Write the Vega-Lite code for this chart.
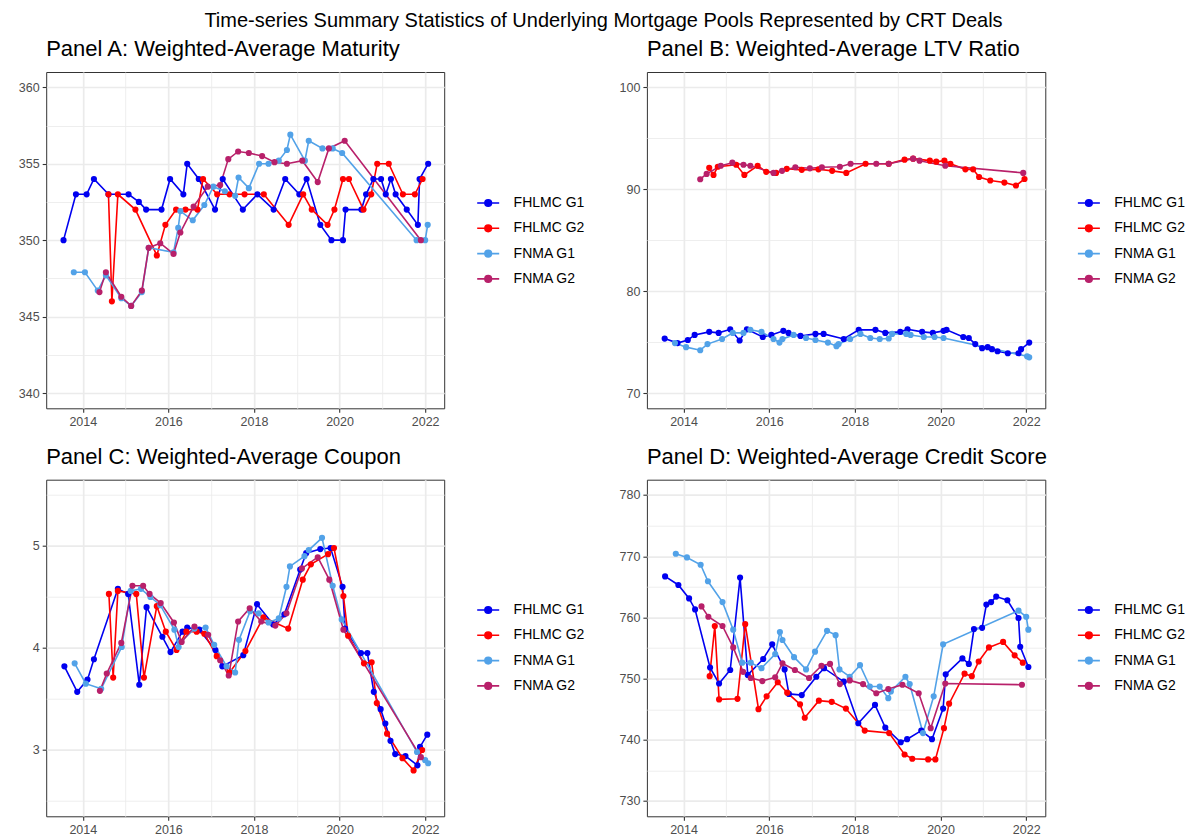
{
  "$schema": "https://vega.github.io/schema/vega-lite/v6.json",
  "padding": {"left": 13.2, "top": 10, "right": 0, "bottom": 2},
  "title": {
    "text": "Time-series Summary Statistics of Underlying Mortgage Pools Represented by CRT Deals",
    "anchor": "middle",
    "frame": "bounds",
    "font": "Liberation Sans",
    "fontSize": 20,
    "fontWeight": "normal",
    "color": "#000000",
    "offset": 6.7,
    "dx": 3.3
  },
  "spacing": 15.7,
  "resolve": {"scale": {"color": "independent"}, "legend": {"color": "independent"}},
  "datasets": {
    "maturity": [
      {"t": 2013.55, "s": "FHLMC G1", "v": 350}, {"t": 2013.84, "s": "FHLMC G1", "v": 353}, {"t": 2014.09, "s": "FHLMC G1", "v": 353}, {"t": 2014.26, "s": "FHLMC G1", "v": 354}, {"t": 2014.6, "s": "FHLMC G1", "v": 353}, {"t": 2015.07, "s": "FHLMC G1", "v": 353}, {"t": 2015.31, "s": "FHLMC G1", "v": 352.5}, {"t": 2015.48, "s": "FHLMC G1", "v": 352}, {"t": 2015.84, "s": "FHLMC G1", "v": 352}, {"t": 2016.04, "s": "FHLMC G1", "v": 354}, {"t": 2016.35, "s": "FHLMC G1", "v": 353}, {"t": 2016.44, "s": "FHLMC G1", "v": 355}, {"t": 2016.71, "s": "FHLMC G1", "v": 354}, {"t": 2017.09, "s": "FHLMC G1", "v": 352}, {"t": 2017.27, "s": "FHLMC G1", "v": 354}, {"t": 2017.74, "s": "FHLMC G1", "v": 352}, {"t": 2018.08, "s": "FHLMC G1", "v": 353}, {"t": 2018.46, "s": "FHLMC G1", "v": 352}, {"t": 2018.73, "s": "FHLMC G1", "v": 354}, {"t": 2019.06, "s": "FHLMC G1", "v": 353}, {"t": 2019.23, "s": "FHLMC G1", "v": 354}, {"t": 2019.55, "s": "FHLMC G1", "v": 351}, {"t": 2019.81, "s": "FHLMC G1", "v": 350}, {"t": 2020.08, "s": "FHLMC G1", "v": 350}, {"t": 2020.14, "s": "FHLMC G1", "v": 352}, {"t": 2020.51, "s": "FHLMC G1", "v": 352}, {"t": 2020.62, "s": "FHLMC G1", "v": 353}, {"t": 2020.79, "s": "FHLMC G1", "v": 354}, {"t": 2020.97, "s": "FHLMC G1", "v": 354}, {"t": 2021.08, "s": "FHLMC G1", "v": 353}, {"t": 2021.2, "s": "FHLMC G1", "v": 354}, {"t": 2021.31, "s": "FHLMC G1", "v": 353}, {"t": 2021.57, "s": "FHLMC G1", "v": 352}, {"t": 2021.83, "s": "FHLMC G1", "v": 351}, {"t": 2021.87, "s": "FHLMC G1", "v": 354}, {"t": 2022.07, "s": "FHLMC G1", "v": 355},
      {"t": 2014.6, "s": "FHLMC G2", "v": 353}, {"t": 2014.68, "s": "FHLMC G2", "v": 346}, {"t": 2014.82, "s": "FHLMC G2", "v": 353}, {"t": 2015.23, "s": "FHLMC G2", "v": 352}, {"t": 2015.73, "s": "FHLMC G2", "v": 349}, {"t": 2015.93, "s": "FHLMC G2", "v": 351}, {"t": 2016.18, "s": "FHLMC G2", "v": 352}, {"t": 2016.4, "s": "FHLMC G2", "v": 352}, {"t": 2016.68, "s": "FHLMC G2", "v": 352}, {"t": 2016.81, "s": "FHLMC G2", "v": 354}, {"t": 2017.14, "s": "FHLMC G2", "v": 353}, {"t": 2017.43, "s": "FHLMC G2", "v": 353}, {"t": 2017.78, "s": "FHLMC G2", "v": 353}, {"t": 2018.23, "s": "FHLMC G2", "v": 353}, {"t": 2018.81, "s": "FHLMC G2", "v": 351}, {"t": 2019.15, "s": "FHLMC G2", "v": 353}, {"t": 2019.35, "s": "FHLMC G2", "v": 352}, {"t": 2019.72, "s": "FHLMC G2", "v": 351}, {"t": 2019.88, "s": "FHLMC G2", "v": 352}, {"t": 2020.08, "s": "FHLMC G2", "v": 354}, {"t": 2020.22, "s": "FHLMC G2", "v": 354}, {"t": 2020.56, "s": "FHLMC G2", "v": 352}, {"t": 2020.74, "s": "FHLMC G2", "v": 353}, {"t": 2020.88, "s": "FHLMC G2", "v": 355}, {"t": 2021.15, "s": "FHLMC G2", "v": 355}, {"t": 2021.48, "s": "FHLMC G2", "v": 353}, {"t": 2021.76, "s": "FHLMC G2", "v": 353}, {"t": 2021.94, "s": "FHLMC G2", "v": 354},
      {"t": 2013.79, "s": "FNMA G1", "v": 347.9}, {"t": 2014.05, "s": "FNMA G1", "v": 347.9}, {"t": 2014.35, "s": "FNMA G1", "v": 346.7}, {"t": 2014.54, "s": "FNMA G1", "v": 347.7}, {"t": 2014.9, "s": "FNMA G1", "v": 346.2}, {"t": 2015.13, "s": "FNMA G1", "v": 345.7}, {"t": 2015.38, "s": "FNMA G1", "v": 346.6}, {"t": 2015.54, "s": "FNMA G1", "v": 349.5}, {"t": 2016.12, "s": "FNMA G1", "v": 349.2}, {"t": 2016.23, "s": "FNMA G1", "v": 350.8}, {"t": 2016.28, "s": "FNMA G1", "v": 351.9}, {"t": 2016.57, "s": "FNMA G1", "v": 351.3}, {"t": 2016.84, "s": "FNMA G1", "v": 352.3}, {"t": 2017.05, "s": "FNMA G1", "v": 353.5}, {"t": 2017.32, "s": "FNMA G1", "v": 353.2}, {"t": 2017.56, "s": "FNMA G1", "v": 352.9}, {"t": 2017.64, "s": "FNMA G1", "v": 354.1}, {"t": 2017.88, "s": "FNMA G1", "v": 353.4}, {"t": 2018.12, "s": "FNMA G1", "v": 355.0}, {"t": 2018.34, "s": "FNMA G1", "v": 355.0}, {"t": 2018.58, "s": "FNMA G1", "v": 355.2}, {"t": 2018.77, "s": "FNMA G1", "v": 355.9}, {"t": 2018.85, "s": "FNMA G1", "v": 356.9}, {"t": 2019.19, "s": "FNMA G1", "v": 355.2}, {"t": 2019.28, "s": "FNMA G1", "v": 356.5}, {"t": 2019.6, "s": "FNMA G1", "v": 356.0}, {"t": 2019.84, "s": "FNMA G1", "v": 356.0}, {"t": 2020.06, "s": "FNMA G1", "v": 355.7}, {"t": 2021.8, "s": "FNMA G1", "v": 350}, {"t": 2022.0, "s": "FNMA G1", "v": 350}, {"t": 2022.06, "s": "FNMA G1", "v": 351},
      {"t": 2014.39, "s": "FNMA G2", "v": 346.6}, {"t": 2014.54, "s": "FNMA G2", "v": 347.9}, {"t": 2014.9, "s": "FNMA G2", "v": 346.3}, {"t": 2015.13, "s": "FNMA G2", "v": 345.7}, {"t": 2015.38, "s": "FNMA G2", "v": 346.7}, {"t": 2015.54, "s": "FNMA G2", "v": 349.5}, {"t": 2015.81, "s": "FNMA G2", "v": 349.8}, {"t": 2016.12, "s": "FNMA G2", "v": 349.1}, {"t": 2016.28, "s": "FNMA G2", "v": 350.5}, {"t": 2016.59, "s": "FNMA G2", "v": 352.2}, {"t": 2016.92, "s": "FNMA G2", "v": 353.5}, {"t": 2017.21, "s": "FNMA G2", "v": 353.6}, {"t": 2017.4, "s": "FNMA G2", "v": 355.3}, {"t": 2017.63, "s": "FNMA G2", "v": 355.8}, {"t": 2017.88, "s": "FNMA G2", "v": 355.7}, {"t": 2018.19, "s": "FNMA G2", "v": 355.5}, {"t": 2018.48, "s": "FNMA G2", "v": 355.1}, {"t": 2018.77, "s": "FNMA G2", "v": 355.0}, {"t": 2019.13, "s": "FNMA G2", "v": 355.2}, {"t": 2019.49, "s": "FNMA G2", "v": 353.8}, {"t": 2019.75, "s": "FNMA G2", "v": 356.0}, {"t": 2020.12, "s": "FNMA G2", "v": 356.5}, {"t": 2021.9, "s": "FNMA G2", "v": 350}
    ],
    "ltv": [
      {"t": 2013.56, "s": "FHLMC G1", "v": 75.34}, {"t": 2013.86, "s": "FHLMC G1", "v": 74.9}, {"t": 2014.1, "s": "FHLMC G1", "v": 75.2}, {"t": 2014.26, "s": "FHLMC G1", "v": 75.7}, {"t": 2014.6, "s": "FHLMC G1", "v": 76.0}, {"t": 2014.82, "s": "FHLMC G1", "v": 75.9}, {"t": 2015.09, "s": "FHLMC G1", "v": 76.25}, {"t": 2015.31, "s": "FHLMC G1", "v": 75.15}, {"t": 2015.48, "s": "FHLMC G1", "v": 76.25}, {"t": 2015.85, "s": "FHLMC G1", "v": 75.5}, {"t": 2016.05, "s": "FHLMC G1", "v": 75.7}, {"t": 2016.33, "s": "FHLMC G1", "v": 76.1}, {"t": 2016.45, "s": "FHLMC G1", "v": 75.9}, {"t": 2016.73, "s": "FHLMC G1", "v": 75.6}, {"t": 2017.08, "s": "FHLMC G1", "v": 75.8}, {"t": 2017.27, "s": "FHLMC G1", "v": 75.8}, {"t": 2017.74, "s": "FHLMC G1", "v": 75.3}, {"t": 2018.09, "s": "FHLMC G1", "v": 76.2}, {"t": 2018.48, "s": "FHLMC G1", "v": 76.2}, {"t": 2018.71, "s": "FHLMC G1", "v": 75.9}, {"t": 2019.06, "s": "FHLMC G1", "v": 76.0}, {"t": 2019.23, "s": "FHLMC G1", "v": 76.25}, {"t": 2019.57, "s": "FHLMC G1", "v": 76.0}, {"t": 2019.82, "s": "FHLMC G1", "v": 75.9}, {"t": 2020.07, "s": "FHLMC G1", "v": 76.1}, {"t": 2020.14, "s": "FHLMC G1", "v": 76.2}, {"t": 2020.53, "s": "FHLMC G1", "v": 75.5}, {"t": 2020.66, "s": "FHLMC G1", "v": 75.4}, {"t": 2020.81, "s": "FHLMC G1", "v": 74.8}, {"t": 2020.97, "s": "FHLMC G1", "v": 74.4}, {"t": 2021.1, "s": "FHLMC G1", "v": 74.5}, {"t": 2021.2, "s": "FHLMC G1", "v": 74.3}, {"t": 2021.33, "s": "FHLMC G1", "v": 74.1}, {"t": 2021.57, "s": "FHLMC G1", "v": 73.9}, {"t": 2021.82, "s": "FHLMC G1", "v": 73.9}, {"t": 2021.88, "s": "FHLMC G1", "v": 74.3}, {"t": 2022.07, "s": "FHLMC G1", "v": 74.95},
      {"t": 2014.6, "s": "FHLMC G2", "v": 92.1}, {"t": 2014.7, "s": "FHLMC G2", "v": 91.4}, {"t": 2014.8, "s": "FHLMC G2", "v": 92.2}, {"t": 2015.23, "s": "FHLMC G2", "v": 92.4}, {"t": 2015.42, "s": "FHLMC G2", "v": 91.4}, {"t": 2015.73, "s": "FHLMC G2", "v": 92.3}, {"t": 2015.93, "s": "FHLMC G2", "v": 91.7}, {"t": 2016.16, "s": "FHLMC G2", "v": 91.6}, {"t": 2016.41, "s": "FHLMC G2", "v": 92.0}, {"t": 2016.76, "s": "FHLMC G2", "v": 91.9}, {"t": 2017.15, "s": "FHLMC G2", "v": 91.95}, {"t": 2017.47, "s": "FHLMC G2", "v": 91.8}, {"t": 2017.8, "s": "FHLMC G2", "v": 91.6}, {"t": 2018.25, "s": "FHLMC G2", "v": 92.5}, {"t": 2018.79, "s": "FHLMC G2", "v": 92.5}, {"t": 2019.16, "s": "FHLMC G2", "v": 92.9}, {"t": 2019.36, "s": "FHLMC G2", "v": 93.0}, {"t": 2019.75, "s": "FHLMC G2", "v": 92.8}, {"t": 2019.9, "s": "FHLMC G2", "v": 92.7}, {"t": 2020.09, "s": "FHLMC G2", "v": 92.8}, {"t": 2020.23, "s": "FHLMC G2", "v": 92.5}, {"t": 2020.58, "s": "FHLMC G2", "v": 91.95}, {"t": 2020.76, "s": "FHLMC G2", "v": 91.95}, {"t": 2020.9, "s": "FHLMC G2", "v": 91.2}, {"t": 2021.16, "s": "FHLMC G2", "v": 90.85}, {"t": 2021.49, "s": "FHLMC G2", "v": 90.65}, {"t": 2021.76, "s": "FHLMC G2", "v": 90.36}, {"t": 2021.96, "s": "FHLMC G2", "v": 91.0},
      {"t": 2013.8, "s": "FNMA G1", "v": 74.9}, {"t": 2014.06, "s": "FNMA G1", "v": 74.5}, {"t": 2014.39, "s": "FNMA G1", "v": 74.2}, {"t": 2014.56, "s": "FNMA G1", "v": 74.8}, {"t": 2014.9, "s": "FNMA G1", "v": 75.3}, {"t": 2015.15, "s": "FNMA G1", "v": 75.9}, {"t": 2015.4, "s": "FNMA G1", "v": 75.9}, {"t": 2015.56, "s": "FNMA G1", "v": 76.2}, {"t": 2015.82, "s": "FNMA G1", "v": 76.0}, {"t": 2016.1, "s": "FNMA G1", "v": 75.3}, {"t": 2016.24, "s": "FNMA G1", "v": 74.95}, {"t": 2016.31, "s": "FNMA G1", "v": 75.3}, {"t": 2016.57, "s": "FNMA G1", "v": 75.7}, {"t": 2016.86, "s": "FNMA G1", "v": 75.4}, {"t": 2017.08, "s": "FNMA G1", "v": 75.2}, {"t": 2017.37, "s": "FNMA G1", "v": 74.95}, {"t": 2017.57, "s": "FNMA G1", "v": 74.6}, {"t": 2017.62, "s": "FNMA G1", "v": 74.8}, {"t": 2017.89, "s": "FNMA G1", "v": 75.3}, {"t": 2018.13, "s": "FNMA G1", "v": 75.8}, {"t": 2018.36, "s": "FNMA G1", "v": 75.4}, {"t": 2018.58, "s": "FNMA G1", "v": 75.3}, {"t": 2018.79, "s": "FNMA G1", "v": 75.35}, {"t": 2018.87, "s": "FNMA G1", "v": 75.8}, {"t": 2019.2, "s": "FNMA G1", "v": 75.8}, {"t": 2019.3, "s": "FNMA G1", "v": 75.7}, {"t": 2019.61, "s": "FNMA G1", "v": 75.5}, {"t": 2019.86, "s": "FNMA G1", "v": 75.5}, {"t": 2020.07, "s": "FNMA G1", "v": 75.4}, {"t": 2022.02, "s": "FNMA G1", "v": 73.6}, {"t": 2022.07, "s": "FNMA G1", "v": 73.5},
      {"t": 2014.39, "s": "FNMA G2", "v": 90.98}, {"t": 2014.54, "s": "FNMA G2", "v": 91.5}, {"t": 2014.87, "s": "FNMA G2", "v": 92.3}, {"t": 2015.14, "s": "FNMA G2", "v": 92.6}, {"t": 2015.4, "s": "FNMA G2", "v": 92.4}, {"t": 2015.56, "s": "FNMA G2", "v": 92.3}, {"t": 2016.1, "s": "FNMA G2", "v": 91.6}, {"t": 2016.3, "s": "FNMA G2", "v": 91.8}, {"t": 2016.61, "s": "FNMA G2", "v": 92.15}, {"t": 2016.95, "s": "FNMA G2", "v": 92.05}, {"t": 2017.23, "s": "FNMA G2", "v": 92.15}, {"t": 2017.65, "s": "FNMA G2", "v": 92.2}, {"t": 2017.9, "s": "FNMA G2", "v": 92.5}, {"t": 2018.5, "s": "FNMA G2", "v": 92.5}, {"t": 2018.79, "s": "FNMA G2", "v": 92.5}, {"t": 2019.36, "s": "FNMA G2", "v": 93.0}, {"t": 2019.51, "s": "FNMA G2", "v": 92.8}, {"t": 2020.11, "s": "FNMA G2", "v": 92.3}, {"t": 2021.93, "s": "FNMA G2", "v": 91.6}
    ],
    "coupon": [
      {"t": 2013.57, "s": "FHLMC G1", "v": 3.82}, {"t": 2013.87, "s": "FHLMC G1", "v": 3.57}, {"t": 2014.11, "s": "FHLMC G1", "v": 3.69}, {"t": 2014.26, "s": "FHLMC G1", "v": 3.89}, {"t": 2014.82, "s": "FHLMC G1", "v": 4.58}, {"t": 2015.06, "s": "FHLMC G1", "v": 4.53}, {"t": 2015.32, "s": "FHLMC G1", "v": 3.64}, {"t": 2015.49, "s": "FHLMC G1", "v": 4.40}, {"t": 2015.86, "s": "FHLMC G1", "v": 4.11}, {"t": 2016.05, "s": "FHLMC G1", "v": 3.96}, {"t": 2016.33, "s": "FHLMC G1", "v": 4.16}, {"t": 2016.44, "s": "FHLMC G1", "v": 4.20}, {"t": 2016.72, "s": "FHLMC G1", "v": 4.18}, {"t": 2017.1, "s": "FHLMC G1", "v": 3.98}, {"t": 2017.26, "s": "FHLMC G1", "v": 3.82}, {"t": 2017.75, "s": "FHLMC G1", "v": 3.93}, {"t": 2018.07, "s": "FHLMC G1", "v": 4.43}, {"t": 2018.45, "s": "FHLMC G1", "v": 4.23}, {"t": 2018.71, "s": "FHLMC G1", "v": 4.33}, {"t": 2019.08, "s": "FHLMC G1", "v": 4.77}, {"t": 2019.22, "s": "FHLMC G1", "v": 4.93}, {"t": 2019.55, "s": "FHLMC G1", "v": 4.97}, {"t": 2019.79, "s": "FHLMC G1", "v": 4.98}, {"t": 2020.07, "s": "FHLMC G1", "v": 4.60}, {"t": 2020.13, "s": "FHLMC G1", "v": 4.19}, {"t": 2020.5, "s": "FHLMC G1", "v": 3.95}, {"t": 2020.65, "s": "FHLMC G1", "v": 3.95}, {"t": 2020.8, "s": "FHLMC G1", "v": 3.57}, {"t": 2020.96, "s": "FHLMC G1", "v": 3.40}, {"t": 2021.07, "s": "FHLMC G1", "v": 3.26}, {"t": 2021.19, "s": "FHLMC G1", "v": 3.09}, {"t": 2021.3, "s": "FHLMC G1", "v": 2.96}, {"t": 2021.54, "s": "FHLMC G1", "v": 2.94}, {"t": 2021.82, "s": "FHLMC G1", "v": 2.85}, {"t": 2021.88, "s": "FHLMC G1", "v": 3.03}, {"t": 2022.05, "s": "FHLMC G1", "v": 3.15},
      {"t": 2014.61, "s": "FHLMC G2", "v": 4.53}, {"t": 2014.71, "s": "FHLMC G2", "v": 3.71}, {"t": 2014.82, "s": "FHLMC G2", "v": 4.56}, {"t": 2015.25, "s": "FHLMC G2", "v": 4.53}, {"t": 2015.43, "s": "FHLMC G2", "v": 3.71}, {"t": 2015.73, "s": "FHLMC G2", "v": 4.41}, {"t": 2015.94, "s": "FHLMC G2", "v": 4.16}, {"t": 2016.19, "s": "FHLMC G2", "v": 3.98}, {"t": 2016.42, "s": "FHLMC G2", "v": 4.16}, {"t": 2016.66, "s": "FHLMC G2", "v": 4.16}, {"t": 2016.84, "s": "FHLMC G2", "v": 4.14}, {"t": 2017.13, "s": "FHLMC G2", "v": 3.92}, {"t": 2017.43, "s": "FHLMC G2", "v": 3.76}, {"t": 2017.8, "s": "FHLMC G2", "v": 3.97}, {"t": 2018.22, "s": "FHLMC G2", "v": 4.30}, {"t": 2018.8, "s": "FHLMC G2", "v": 4.19}, {"t": 2019.14, "s": "FHLMC G2", "v": 4.67}, {"t": 2019.33, "s": "FHLMC G2", "v": 4.82}, {"t": 2019.73, "s": "FHLMC G2", "v": 4.92}, {"t": 2019.87, "s": "FHLMC G2", "v": 4.98}, {"t": 2020.09, "s": "FHLMC G2", "v": 4.51}, {"t": 2020.2, "s": "FHLMC G2", "v": 4.12}, {"t": 2020.57, "s": "FHLMC G2", "v": 3.85}, {"t": 2020.75, "s": "FHLMC G2", "v": 3.86}, {"t": 2020.87, "s": "FHLMC G2", "v": 3.46}, {"t": 2021.11, "s": "FHLMC G2", "v": 3.16}, {"t": 2021.47, "s": "FHLMC G2", "v": 2.92}, {"t": 2021.73, "s": "FHLMC G2", "v": 2.80}, {"t": 2021.93, "s": "FHLMC G2", "v": 3.00},
      {"t": 2013.81, "s": "FNMA G1", "v": 3.85}, {"t": 2014.07, "s": "FNMA G1", "v": 3.65}, {"t": 2014.43, "s": "FNMA G1", "v": 3.60}, {"t": 2014.91, "s": "FNMA G1", "v": 4.01}, {"t": 2015.12, "s": "FNMA G1", "v": 4.56}, {"t": 2015.36, "s": "FNMA G1", "v": 4.58}, {"t": 2015.58, "s": "FNMA G1", "v": 4.50}, {"t": 2015.81, "s": "FNMA G1", "v": 4.42}, {"t": 2016.14, "s": "FNMA G1", "v": 4.18}, {"t": 2016.24, "s": "FNMA G1", "v": 4.01}, {"t": 2016.29, "s": "FNMA G1", "v": 4.06}, {"t": 2016.61, "s": "FNMA G1", "v": 4.19}, {"t": 2016.87, "s": "FNMA G1", "v": 4.20}, {"t": 2017.07, "s": "FNMA G1", "v": 4.03}, {"t": 2017.36, "s": "FNMA G1", "v": 3.82}, {"t": 2017.56, "s": "FNMA G1", "v": 3.76}, {"t": 2017.65, "s": "FNMA G1", "v": 4.08}, {"t": 2017.91, "s": "FNMA G1", "v": 4.36}, {"t": 2018.11, "s": "FNMA G1", "v": 4.34}, {"t": 2018.34, "s": "FNMA G1", "v": 4.25}, {"t": 2018.58, "s": "FNMA G1", "v": 4.29}, {"t": 2018.76, "s": "FNMA G1", "v": 4.60}, {"t": 2018.84, "s": "FNMA G1", "v": 4.80}, {"t": 2019.18, "s": "FNMA G1", "v": 4.90}, {"t": 2019.28, "s": "FNMA G1", "v": 4.96}, {"t": 2019.59, "s": "FNMA G1", "v": 5.08}, {"t": 2019.84, "s": "FNMA G1", "v": 4.61}, {"t": 2020.05, "s": "FNMA G1", "v": 4.28}, {"t": 2021.81, "s": "FNMA G1", "v": 2.98}, {"t": 2022.0, "s": "FNMA G1", "v": 2.90}, {"t": 2022.07, "s": "FNMA G1", "v": 2.87},
      {"t": 2014.4, "s": "FNMA G2", "v": 3.58}, {"t": 2014.56, "s": "FNMA G2", "v": 3.75}, {"t": 2014.9, "s": "FNMA G2", "v": 4.05}, {"t": 2015.16, "s": "FNMA G2", "v": 4.61}, {"t": 2015.41, "s": "FNMA G2", "v": 4.61}, {"t": 2015.56, "s": "FNMA G2", "v": 4.53}, {"t": 2015.82, "s": "FNMA G2", "v": 4.44}, {"t": 2016.13, "s": "FNMA G2", "v": 4.25}, {"t": 2016.31, "s": "FNMA G2", "v": 4.06}, {"t": 2016.61, "s": "FNMA G2", "v": 4.21}, {"t": 2016.93, "s": "FNMA G2", "v": 4.13}, {"t": 2017.21, "s": "FNMA G2", "v": 3.88}, {"t": 2017.41, "s": "FNMA G2", "v": 3.73}, {"t": 2017.63, "s": "FNMA G2", "v": 4.26}, {"t": 2017.9, "s": "FNMA G2", "v": 4.39}, {"t": 2018.17, "s": "FNMA G2", "v": 4.26}, {"t": 2018.5, "s": "FNMA G2", "v": 4.22}, {"t": 2018.76, "s": "FNMA G2", "v": 4.34}, {"t": 2019.12, "s": "FNMA G2", "v": 4.78}, {"t": 2019.49, "s": "FNMA G2", "v": 4.89}, {"t": 2019.76, "s": "FNMA G2", "v": 4.67}, {"t": 2020.09, "s": "FNMA G2", "v": 4.18}, {"t": 2021.9, "s": "FNMA G2", "v": 2.93}
    ],
    "score": [
      {"t": 2013.57, "s": "FHLMC G1", "v": 766.7}, {"t": 2013.88, "s": "FHLMC G1", "v": 765.3}, {"t": 2014.13, "s": "FHLMC G1", "v": 763.1}, {"t": 2014.27, "s": "FHLMC G1", "v": 761.3}, {"t": 2014.62, "s": "FHLMC G1", "v": 751.8}, {"t": 2014.83, "s": "FHLMC G1", "v": 749.2}, {"t": 2015.09, "s": "FHLMC G1", "v": 751.4}, {"t": 2015.32, "s": "FHLMC G1", "v": 766.5}, {"t": 2015.5, "s": "FHLMC G1", "v": 750.6}, {"t": 2015.86, "s": "FHLMC G1", "v": 753.2}, {"t": 2016.07, "s": "FHLMC G1", "v": 755.6}, {"t": 2016.36, "s": "FHLMC G1", "v": 751.5}, {"t": 2016.46, "s": "FHLMC G1", "v": 747.5}, {"t": 2016.76, "s": "FHLMC G1", "v": 747.3}, {"t": 2017.1, "s": "FHLMC G1", "v": 750.3}, {"t": 2017.28, "s": "FHLMC G1", "v": 751.7}, {"t": 2017.74, "s": "FHLMC G1", "v": 749.5}, {"t": 2018.08, "s": "FHLMC G1", "v": 742.7}, {"t": 2018.47, "s": "FHLMC G1", "v": 745.7}, {"t": 2018.71, "s": "FHLMC G1", "v": 742.0}, {"t": 2019.07, "s": "FHLMC G1", "v": 739.6}, {"t": 2019.22, "s": "FHLMC G1", "v": 740.1}, {"t": 2019.55, "s": "FHLMC G1", "v": 741.5}, {"t": 2019.8, "s": "FHLMC G1", "v": 740.1}, {"t": 2020.06, "s": "FHLMC G1", "v": 745.1}, {"t": 2020.12, "s": "FHLMC G1", "v": 750.7}, {"t": 2020.51, "s": "FHLMC G1", "v": 753.3}, {"t": 2020.66, "s": "FHLMC G1", "v": 752.4}, {"t": 2020.78, "s": "FHLMC G1", "v": 758.1}, {"t": 2020.97, "s": "FHLMC G1", "v": 758.3}, {"t": 2021.07, "s": "FHLMC G1", "v": 762.1}, {"t": 2021.18, "s": "FHLMC G1", "v": 762.5}, {"t": 2021.3, "s": "FHLMC G1", "v": 763.4}, {"t": 2021.56, "s": "FHLMC G1", "v": 762.8}, {"t": 2021.82, "s": "FHLMC G1", "v": 759.9}, {"t": 2021.86, "s": "FHLMC G1", "v": 755.2}, {"t": 2022.05, "s": "FHLMC G1", "v": 751.9},
      {"t": 2014.61, "s": "FHLMC G2", "v": 750.4}, {"t": 2014.73, "s": "FHLMC G2", "v": 758.6}, {"t": 2014.83, "s": "FHLMC G2", "v": 746.6}, {"t": 2015.26, "s": "FHLMC G2", "v": 746.7}, {"t": 2015.44, "s": "FHLMC G2", "v": 758.9}, {"t": 2015.75, "s": "FHLMC G2", "v": 745.0}, {"t": 2015.94, "s": "FHLMC G2", "v": 747.1}, {"t": 2016.2, "s": "FHLMC G2", "v": 749.4}, {"t": 2016.42, "s": "FHLMC G2", "v": 747.7}, {"t": 2016.72, "s": "FHLMC G2", "v": 745.8}, {"t": 2016.83, "s": "FHLMC G2", "v": 743.6}, {"t": 2017.16, "s": "FHLMC G2", "v": 746.4}, {"t": 2017.46, "s": "FHLMC G2", "v": 746.2}, {"t": 2017.79, "s": "FHLMC G2", "v": 745.1}, {"t": 2018.23, "s": "FHLMC G2", "v": 741.5}, {"t": 2018.8, "s": "FHLMC G2", "v": 741.1}, {"t": 2019.16, "s": "FHLMC G2", "v": 737.6}, {"t": 2019.34, "s": "FHLMC G2", "v": 736.9}, {"t": 2019.71, "s": "FHLMC G2", "v": 736.8}, {"t": 2019.88, "s": "FHLMC G2", "v": 736.8}, {"t": 2020.08, "s": "FHLMC G2", "v": 741.9}, {"t": 2020.2, "s": "FHLMC G2", "v": 745.9}, {"t": 2020.56, "s": "FHLMC G2", "v": 750.8}, {"t": 2020.73, "s": "FHLMC G2", "v": 750.4}, {"t": 2020.89, "s": "FHLMC G2", "v": 752.8}, {"t": 2021.13, "s": "FHLMC G2", "v": 755.1}, {"t": 2021.46, "s": "FHLMC G2", "v": 756.0}, {"t": 2021.73, "s": "FHLMC G2", "v": 753.8}, {"t": 2021.92, "s": "FHLMC G2", "v": 752.6},
      {"t": 2013.82, "s": "FNMA G1", "v": 770.4}, {"t": 2014.08, "s": "FNMA G1", "v": 769.8}, {"t": 2014.4, "s": "FNMA G1", "v": 768.6}, {"t": 2014.57, "s": "FNMA G1", "v": 765.9}, {"t": 2014.91, "s": "FNMA G1", "v": 762.5}, {"t": 2015.16, "s": "FNMA G1", "v": 758.0}, {"t": 2015.37, "s": "FNMA G1", "v": 752.6}, {"t": 2015.57, "s": "FNMA G1", "v": 752.6}, {"t": 2015.82, "s": "FNMA G1", "v": 751.7}, {"t": 2016.14, "s": "FNMA G1", "v": 754.0}, {"t": 2016.25, "s": "FNMA G1", "v": 757.6}, {"t": 2016.31, "s": "FNMA G1", "v": 756.3}, {"t": 2016.58, "s": "FNMA G1", "v": 753.5}, {"t": 2016.86, "s": "FNMA G1", "v": 751.5}, {"t": 2017.07, "s": "FNMA G1", "v": 754.4}, {"t": 2017.35, "s": "FNMA G1", "v": 757.8}, {"t": 2017.55, "s": "FNMA G1", "v": 757.1}, {"t": 2017.64, "s": "FNMA G1", "v": 751.5}, {"t": 2017.88, "s": "FNMA G1", "v": 750.3}, {"t": 2018.12, "s": "FNMA G1", "v": 752.2}, {"t": 2018.35, "s": "FNMA G1", "v": 748.7}, {"t": 2018.58, "s": "FNMA G1", "v": 748.7}, {"t": 2018.78, "s": "FNMA G1", "v": 746.8}, {"t": 2018.84, "s": "FNMA G1", "v": 747.9}, {"t": 2019.18, "s": "FNMA G1", "v": 750.3}, {"t": 2019.28, "s": "FNMA G1", "v": 749.1}, {"t": 2019.59, "s": "FNMA G1", "v": 741.1}, {"t": 2019.84, "s": "FNMA G1", "v": 747.1}, {"t": 2020.06, "s": "FNMA G1", "v": 755.6}, {"t": 2021.82, "s": "FNMA G1", "v": 761.1}, {"t": 2022.0, "s": "FNMA G1", "v": 760.1}, {"t": 2022.05, "s": "FNMA G1", "v": 758.0},
      {"t": 2014.42, "s": "FNMA G2", "v": 761.8}, {"t": 2014.58, "s": "FNMA G2", "v": 760.1}, {"t": 2014.91, "s": "FNMA G2", "v": 758.6}, {"t": 2015.16, "s": "FNMA G2", "v": 755.1}, {"t": 2015.39, "s": "FNMA G2", "v": 751.1}, {"t": 2015.57, "s": "FNMA G2", "v": 750.1}, {"t": 2015.84, "s": "FNMA G2", "v": 749.6}, {"t": 2016.14, "s": "FNMA G2", "v": 750.2}, {"t": 2016.31, "s": "FNMA G2", "v": 752.5}, {"t": 2016.6, "s": "FNMA G2", "v": 751.4}, {"t": 2016.93, "s": "FNMA G2", "v": 750.1}, {"t": 2017.22, "s": "FNMA G2", "v": 752.1}, {"t": 2017.42, "s": "FNMA G2", "v": 752.4}, {"t": 2017.65, "s": "FNMA G2", "v": 749.1}, {"t": 2017.88, "s": "FNMA G2", "v": 749.7}, {"t": 2018.19, "s": "FNMA G2", "v": 749.1}, {"t": 2018.5, "s": "FNMA G2", "v": 747.6}, {"t": 2018.78, "s": "FNMA G2", "v": 748.3}, {"t": 2019.11, "s": "FNMA G2", "v": 749.0}, {"t": 2019.49, "s": "FNMA G2", "v": 747.6}, {"t": 2019.77, "s": "FNMA G2", "v": 741.9}, {"t": 2020.11, "s": "FNMA G2", "v": 749.2}, {"t": 2021.9, "s": "FNMA G2", "v": 749.0}
    ]
  },
  "vconcat": [
    {
      "spacing": 29.7,
      "resolve": {"scale": {"color": "independent"}, "legend": {"color": "independent"}},
      "hconcat": [
        {
          "width": 398, "height": 336.3,
          "data": {"name": "maturity"},
          "title": {"text": "Panel A: Weighted-Average Maturity"},
          "encoding": {
            "x": {"field": "t", "type": "quantitative", "title": null,
              "scale": {"domain": [2013.145, 2022.445], "nice": false, "zero": false},
              "axis": {"values": [2014, 2015, 2016, 2017, 2018, 2019, 2020, 2021, 2022], "format": "d",
                "labelExpr": "datum.value % 2 === 0 ? datum.label : ''",
                "tickOpacity": {"condition": {"test": "datum.value % 2 === 0", "value": 1}, "value": 0},
                "gridWidth": {"condition": {"test": "datum.value % 2 === 0", "value": 1.7}, "value": 0.85}}},
            "y": {"field": "v", "type": "quantitative", "title": null,
              "scale": {"domain": [339, 361], "nice": false, "zero": false},
              "axis": {"values": [340, 342.5, 345, 347.5, 350, 352.5, 355, 357.5, 360], "minExtent": 31.7,
                "labelExpr": "datum.value % 5 === 0 ? datum.label : ''",
                "tickOpacity": {"condition": {"test": "datum.value % 5 === 0", "value": 1}, "value": 0},
                "gridWidth": {"condition": {"test": "datum.value % 5 === 0", "value": 1.7}, "value": 0.85}}},
            "color": {"field": "s", "type": "nominal", "title": null,
              "scale": {"domain": ["FHLMC G1", "FHLMC G2", "FNMA G1", "FNMA G2"], "range": ["#0000F0", "#FF0000", "#52A2E8", "#B8206A"]},
              "legend": {"legendX": 430, "legendY": 119}}
          },
          "layer": [
            {"mark": {"type": "line", "strokeWidth": 1.6}, "encoding": {}},
            {"mark": {"type": "point", "filled": true, "size": 38, "opacity": 1}, "encoding": {}}
          ]
        },
        {
          "width": 398.4, "height": 336.3,
          "data": {"name": "ltv"},
          "title": {"text": "Panel B: Weighted-Average LTV Ratio"},
          "encoding": {
            "x": {"field": "t", "type": "quantitative", "title": null,
              "scale": {"domain": [2013.145, 2022.445], "nice": false, "zero": false},
              "axis": {"values": [2014, 2015, 2016, 2017, 2018, 2019, 2020, 2021, 2022], "format": "d",
                "labelExpr": "datum.value % 2 === 0 ? datum.label : ''",
                "tickOpacity": {"condition": {"test": "datum.value % 2 === 0", "value": 1}, "value": 0},
                "gridWidth": {"condition": {"test": "datum.value % 2 === 0", "value": 1.7}, "value": 0.85}}},
            "y": {"field": "v", "type": "quantitative", "title": null,
              "scale": {"domain": [68.5, 101.5], "nice": false, "zero": false},
              "axis": {"values": [70, 75, 80, 85, 90, 95, 100], "minExtent": 30,
                "labelExpr": "datum.value % 10 === 0 ? datum.label : ''",
                "tickOpacity": {"condition": {"test": "datum.value % 10 === 0", "value": 1}, "value": 0},
                "gridWidth": {"condition": {"test": "datum.value % 10 === 0", "value": 1.7}, "value": 0.85}}},
            "color": {"field": "s", "type": "nominal", "title": null,
              "scale": {"domain": ["FHLMC G1", "FHLMC G2", "FNMA G1", "FNMA G2"], "range": ["#0000F0", "#FF0000", "#52A2E8", "#B8206A"]},
              "legend": {"legendX": 430, "legendY": 119}}
          },
          "layer": [
            {"mark": {"type": "line", "strokeWidth": 1.6}, "encoding": {}},
            {"mark": {"type": "point", "filled": true, "size": 38, "opacity": 1}, "encoding": {}}
          ]
        }
      ]
    },
    {
      "spacing": 29.7,
      "resolve": {"scale": {"color": "independent"}, "legend": {"color": "independent"}},
      "hconcat": [
        {
          "width": 398, "height": 336.6,
          "data": {"name": "coupon"},
          "title": {"text": "Panel C: Weighted-Average Coupon"},
          "encoding": {
            "x": {"field": "t", "type": "quantitative", "title": null,
              "scale": {"domain": [2013.145, 2022.445], "nice": false, "zero": false},
              "axis": {"values": [2014, 2015, 2016, 2017, 2018, 2019, 2020, 2021, 2022], "format": "d",
                "labelExpr": "datum.value % 2 === 0 ? datum.label : ''",
                "tickOpacity": {"condition": {"test": "datum.value % 2 === 0", "value": 1}, "value": 0},
                "gridWidth": {"condition": {"test": "datum.value % 2 === 0", "value": 1.7}, "value": 0.85}}},
            "y": {"field": "v", "type": "quantitative", "title": null,
              "scale": {"domain": [2.35, 5.65], "nice": false, "zero": false},
              "axis": {"values": [2.5, 3, 3.5, 4, 4.5, 5, 5.5], "format": ".0f",
                "labelExpr": "(datum.value == 3 || datum.value == 4 || datum.value == 5) ? datum.label : ''",
                "tickOpacity": {"condition": {"test": "datum.value == 3 || datum.value == 4 || datum.value == 5", "value": 1}, "value": 0},
                "gridWidth": {"condition": {"test": "datum.value == 3 || datum.value == 4 || datum.value == 5", "value": 1.7}, "value": 0.85}}},
            "color": {"field": "s", "type": "nominal", "title": null,
              "scale": {"domain": ["FHLMC G1", "FHLMC G2", "FNMA G1", "FNMA G2"], "range": ["#0000F0", "#FF0000", "#52A2E8", "#B8206A"]},
              "legend": {"legendX": 430, "legendY": 118.3}}
          },
          "layer": [
            {"mark": {"type": "line", "strokeWidth": 1.6}, "encoding": {}},
            {"mark": {"type": "point", "filled": true, "size": 38, "opacity": 1}, "encoding": {}}
          ]
        },
        {
          "width": 398.4, "height": 336.6,
          "data": {"name": "score"},
          "title": {"text": "Panel D: Weighted-Average Credit Score"},
          "encoding": {
            "x": {"field": "t", "type": "quantitative", "title": null,
              "scale": {"domain": [2013.145, 2022.445], "nice": false, "zero": false},
              "axis": {"values": [2014, 2015, 2016, 2017, 2018, 2019, 2020, 2021, 2022], "format": "d",
                "labelExpr": "datum.value % 2 === 0 ? datum.label : ''",
                "tickOpacity": {"condition": {"test": "datum.value % 2 === 0", "value": 1}, "value": 0},
                "gridWidth": {"condition": {"test": "datum.value % 2 === 0", "value": 1.7}, "value": 0.85}}},
            "y": {"field": "v", "type": "quantitative", "title": null,
              "scale": {"domain": [727.5, 782.5], "nice": false, "zero": false},
              "axis": {"values": [730, 735, 740, 745, 750, 755, 760, 765, 770, 775, 780], "minExtent": 30,
                "labelExpr": "datum.value % 10 === 0 ? datum.label : ''",
                "tickOpacity": {"condition": {"test": "datum.value % 10 === 0", "value": 1}, "value": 0},
                "gridWidth": {"condition": {"test": "datum.value % 10 === 0", "value": 1.7}, "value": 0.85}}},
            "color": {"field": "s", "type": "nominal", "title": null,
              "scale": {"domain": ["FHLMC G1", "FHLMC G2", "FNMA G1", "FNMA G2"], "range": ["#0000F0", "#FF0000", "#52A2E8", "#B8206A"]},
              "legend": {"legendX": 430, "legendY": 118.3}}
          },
          "layer": [
            {"mark": {"type": "line", "strokeWidth": 1.6}, "encoding": {}},
            {"mark": {"type": "point", "filled": true, "size": 38, "opacity": 1}, "encoding": {}}
          ]
        }
      ]
    }
  ],
  "config": {
    "font": "Liberation Sans",
    "background": "#ffffff",
    "view": {"stroke": "#333333", "strokeWidth": 1},
    "title": {"anchor": "start", "frame": "group", "font": "Liberation Sans", "fontSize": 22, "fontWeight": "normal", "color": "#000000", "offset": 11},
    "axis": {
      "domain": false,
      "labelFont": "Liberation Sans",
      "labelFontSize": 12.5,
      "labelColor": "#4d4d4d",
      "labelPadding": 3,
      "labelOverlap": false,
      "labelFlush": false,
      "tickColor": "#333333",
      "tickSize": 4,
      "tickWidth": 1.1,
      "gridColor": "#ebebeb"
    },
    "legend": {
      "orient": "none",
      "padding": 0,
      "labelFont": "Liberation Sans",
      "labelFontSize": 14,
      "labelColor": "#000000",
      "labelOffset": 13.4,
      "rowPadding": 6.3,
      "symbolType": "M-1,0H1M0.3,0A0.3,0.3,0,1,1,-0.3,0A0.3,0.3,0,1,1,0.3,0Z",
      "symbolSize": 484,
      "symbolStrokeWidth": 1.6
    }
  }
}
